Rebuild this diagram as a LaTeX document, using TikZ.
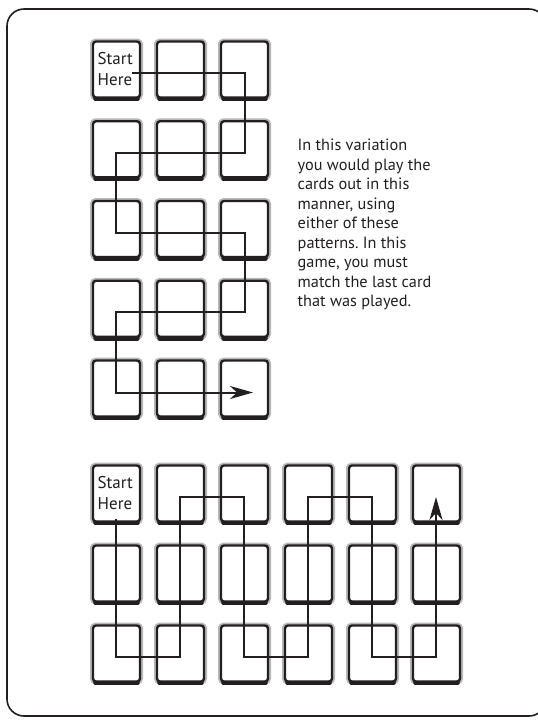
\documentclass[tikz,border=0pt]{standalone}
\usepackage{fontspec}
\setmainfont{PT Sans}
\usetikzlibrary{arrows.meta,calc}
\definecolor{ink}{HTML}{231F20}
\frenchspacing
\begin{document}
\begin{tikzpicture}[x=1pt,y=-1pt,
  card/.style={draw=ink, line width=2.4pt, rounded corners=3pt, fill=white,
    minimum width=47pt, minimum height=56pt, inner sep=0pt, outer sep=0pt,
    preaction={draw=black!28, line width=6pt}},
  shade/.style={draw=ink, line width=4.5pt, line cap=round},
  route/.style={draw=ink, line width=2pt},
  tip/.style={-{Stealth[length=23pt,width=13pt,inset=7pt]}},
  label/.style={anchor=north west, inner sep=0pt, align=left, text=ink}]
\useasboundingbox (0,0) rectangle (538,721);
\draw[ink, line width=1.6pt, rounded corners=17pt] (7,9) rectangle (546,716);
% top grid: 5 rows x 3 cols
\foreach \r in {1,...,5}{
  \foreach \c in {1,2,3}{
    \pgfmathsetmacro{\cx}{116.5+64*(\c-1)}
    \pgfmathsetmacro{\cy}{41+79.75*(\r-1)+28.5}
    \node[card] (t\r\c) at (\cx,\cy) {};
    \draw[shade] ($(t\r\c.south west)+(2.5,1.5)$) -- ($(t\r\c.south east)+(-2.5,1.5)$);
  }
}
% bottom grid: 3 rows x 6 cols
\foreach \r in {1,2,3}{
  \foreach \c in {1,...,6}{
    \pgfmathsetmacro{\cx}{116.5+64*(\c-1)}
    \pgfmathsetmacro{\cy}{465+80*(\r-1)+28.5}
    \node[card] (b\r\c) at (\cx,\cy) {};
    \draw[shade] ($(b\r\c.south west)+(2.5,1.5)$) -- ($(b\r\c.south east)+(-2.5,1.5)$);
  }
}
% texts
\node[label, font=\fontsize{17}{21}\selectfont] (s1) at (97.5,52.5) {Start\\Here};
\node[label, font=\fontsize{17}{21}\selectfont] (s2) at (97.5,476) {Start\\Here};
\node[label, font=\fontsize{16.3}{19.5}\selectfont] (desc) at (297.5,139)
  {In this variation\\you would play the\\cards out in this\\manner, using\\either of these\\patterns. In this\\game, you must\\match the last card\\that was played.};
% top route
\coordinate (a0) at (132,73);
\coordinate (a1) at (245,73);
\coordinate (a2) at (245,153);
\coordinate (a3) at (116,153);
\coordinate (a4) at (116,232.5);
\coordinate (a5) at (245,232.5);
\coordinate (a6) at (245,312);
\coordinate (a7) at (116,312);
\coordinate (a8) at (116,392.5);
\coordinate (a9) at (253,392.5);
\draw[route, tip] (a0) -- (a1) -- (a2) -- (a3) -- (a4) -- (a5) -- (a6) -- (a7) -- (a8) -- (a9);
% bottom route
\coordinate (z0) at (116,519);
\coordinate (z1) at (116,657);
\coordinate (z2) at (180,657);
\coordinate (z3) at (180,497);
\coordinate (z4) at (244,497);
\coordinate (z5) at (244,657);
\coordinate (z6) at (308,657);
\coordinate (z7) at (308,497);
\coordinate (z8) at (372,497);
\coordinate (z9) at (372,657);
\coordinate (z10) at (436,657);
\coordinate (z11) at (436,497);
\draw[route, tip] (z0) -- (z1) -- (z2) -- (z3) -- (z4) -- (z5) -- (z6) -- (z7) -- (z8) -- (z9) -- (z10) -- (z11);
\end{tikzpicture}
\end{document}
